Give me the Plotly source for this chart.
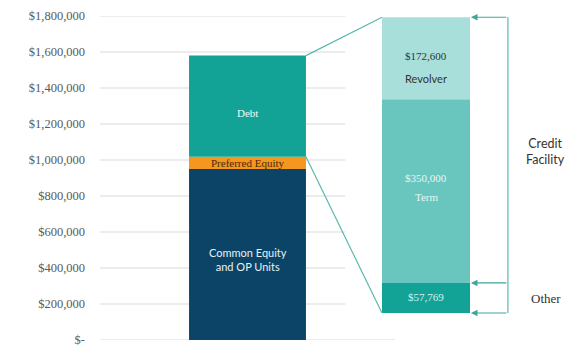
import plotly.graph_objects as go
import numpy as np

# ---------------- data ----------------
cap_labels = ["Common Equity<br>and OP Units", "Preferred Equity", "Debt"]
cap_values = [950000, 68000, 562000]
cap_colors = ["#0B4466", "#F5961E", "#13A396"]

debt_names = ["Other", "Term", "Revolver"]
debt_amounts = ["$57,769", "$350,000", "$172,600"]
# exploded view heights as drawn on the axis
debt_drawn = [167000, 1020000, 456000]
debt_base = 150000
debt_colors = ["#13A396", "#69C6BE", "#A9DFDA"]

tick_vals = [0, 200000, 400000, 600000, 800000, 1000000, 1200000, 1400000, 1600000, 1800000]
tick_text = ["$-", "$200,000", "$400,000", "$600,000", "$800,000", "$1,000,000",
             "$1,200,000", "$1,400,000", "$1,600,000", "$1,800,000"]

# ---------------- layout constants ----------------
X_LEFT, W_LEFT = 0.0, 0.655
X_RIGHT, W_RIGHT = 1.0, 0.493
X_BRACKET = 1.459
X_SIDE_TEXT = 1.67
LINE_COL = "#5DB8B0"
SERIF = "Liberation Serif, Times New Roman, serif"
SANS = "Lato, Liberation Sans, sans-serif"

fig = go.Figure()

cap_base = np.concatenate([[0], np.cumsum(cap_values)[:-1]])
for lab, v, b, c in zip(cap_labels, cap_values, cap_base, cap_colors):
    fig.add_trace(go.Bar(x=[X_LEFT], y=[v], base=[b], width=[W_LEFT],
                         marker=dict(color=c, line=dict(width=0)),
                         hoverinfo="skip", showlegend=False))

d_base = debt_base + np.concatenate([[0], np.cumsum(debt_drawn)[:-1]])
for n, v, b, c in zip(debt_names, debt_drawn, d_base, debt_colors):
    fig.add_trace(go.Bar(x=[X_RIGHT], y=[v], base=[b], width=[W_RIGHT],
                         marker=dict(color=c, line=dict(width=0)),
                         hoverinfo="skip", showlegend=False))

# gridlines (stop short of the exploded bar)
shapes = []
for tv in tick_vals[1:]:
    shapes.append(dict(type="line", xref="paper", yref="y", x0=0.0, x1=0.526,
                       y0=tv, y1=tv, line=dict(color="#D9D9D9", width=1), layer="below"))
shapes.append(dict(type="line", xref="paper", yref="y", x0=0.0, x1=0.633,
                   y0=0, y1=0, line=dict(color="#D9D9D9", width=1), layer="below"))

# connector lines
cap_top = sum(cap_values)
debt_bottom = cap_values[0] + cap_values[1]
right_top = debt_base + sum(debt_drawn)
shapes.append(dict(type="line", xref="x", yref="y", x0=X_LEFT + W_LEFT / 2, y0=cap_top,
                   x1=X_RIGHT - W_RIGHT / 2, y1=right_top, line=dict(color=LINE_COL, width=1.2)))
shapes.append(dict(type="line", xref="x", yref="y", x0=X_LEFT + W_LEFT / 2, y0=debt_bottom,
                   x1=X_RIGHT - W_RIGHT / 2, y1=debt_base, line=dict(color=LINE_COL, width=1.2)))
# bracket vertical
shapes.append(dict(type="line", xref="x", yref="y", x0=X_BRACKET, x1=X_BRACKET,
                   y0=debt_base, y1=right_top, line=dict(color=LINE_COL, width=1.2)))

annotations = []
# arrows
other_top = debt_base + debt_drawn[0]
for yv in [right_top, other_top, debt_base]:
    annotations.append(dict(x=X_RIGHT + W_RIGHT / 2 + 0.005, y=yv, ax=X_BRACKET, ay=yv,
                            xref="x", yref="y", axref="x", ayref="y", text="",
                            showarrow=True, arrowhead=2, arrowsize=1.1, arrowwidth=1.2,
                            arrowcolor="#3FA69D"))

# left bar labels
mid = cap_base + np.array(cap_values) / 2
annotations.append(dict(x=X_LEFT, y=mid[0], yshift=-5, text=cap_labels[0], showarrow=False,
                        font=dict(family=SANS, size=11, color="#E8F0F5")))
annotations.append(dict(x=X_LEFT, y=mid[1], yshift=0, text=cap_labels[1], showarrow=False,
                        font=dict(family=SERIF, size=11, color="#4A2A0E")))
annotations.append(dict(x=X_LEFT, y=mid[2], yshift=-7, text=cap_labels[2], showarrow=False,
                        font=dict(family=SERIF, size=11, color="#F0FAF9")))

# right bar labels
dmid = d_base + np.array(debt_drawn) / 2
annotations.append(dict(x=X_RIGHT, y=dmid[0], yshift=1, text=debt_amounts[0], showarrow=False,
                        font=dict(family=SERIF, size=11, color="#D8F0EE")))
annotations.append(dict(x=X_RIGHT, y=dmid[1], yshift=13, text=debt_amounts[1], showarrow=False,
                        font=dict(family=SERIF, size=11, color="#E6F6F4")))
annotations.append(dict(x=X_RIGHT, y=dmid[1], yshift=-6, text=debt_names[1], showarrow=False,
                        font=dict(family=SERIF, size=11, color="#E6F6F4")))
annotations.append(dict(x=X_RIGHT, y=dmid[2], yshift=2, text=debt_amounts[2], showarrow=False,
                        font=dict(family=SERIF, size=11, color="#333333")))
annotations.append(dict(x=X_RIGHT, y=dmid[2], yshift=-20, text=debt_names[2], showarrow=False,
                        font=dict(family=SANS, size=11, color="#333333")))

# side labels
annotations.append(dict(x=X_SIDE_TEXT, y=(debt_base + debt_drawn[0] + right_top) / 2 - 50000,
                        yshift=8, text="Credit<br>Facility", showarrow=False,
                        font=dict(family=SANS, size=12.5, color="#333333")))
annotations.append(dict(x=X_SIDE_TEXT, y=debt_base + debt_drawn[0] / 2 - 5000,
                        text=debt_names[0], showarrow=False,
                        font=dict(family=SERIF, size=13, color="#333333")))

x0 = -(247.5 - 100) / 178.5
x1 = x0 + 466 / 178.5

fig.update_layout(
    width=566, height=350,
    margin=dict(l=100, r=0, t=16, b=10),
    paper_bgcolor="white", plot_bgcolor="white",
    barmode="overlay",
    shapes=shapes, annotations=annotations,
    xaxis=dict(range=[x0, x1], showgrid=False, zeroline=False, showticklabels=False,
               showline=False, fixedrange=True),
    yaxis=dict(range=[0, 1800000], tickvals=tick_vals, ticktext=tick_text,
               showgrid=False, zeroline=False, showline=False, automargin=False,
               ticklabelstandoff=14,
               tickfont=dict(family=SERIF, size=12.5, color="#595959")),
)

fig.write_html("out.html")
